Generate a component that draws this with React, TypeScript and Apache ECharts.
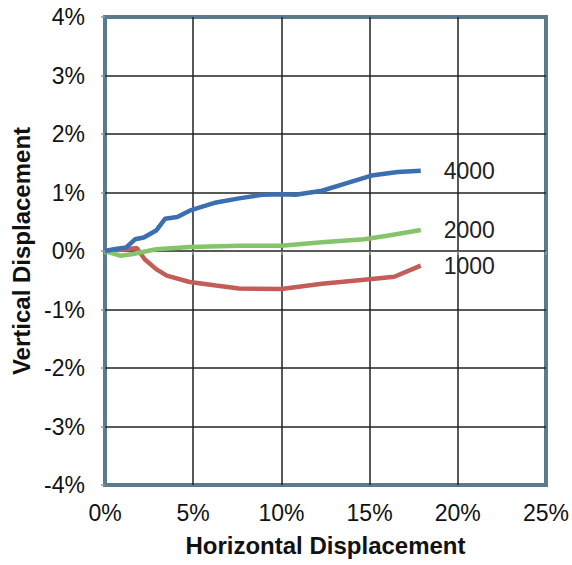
import React, { useEffect, useRef } from "react";
import * as echarts from "echarts";

const xTicks = [0, 5, 10, 15, 20, 25];
const yTicks = [-4, -3, -2, -1, 0, 1, 2, 3, 4];

const seriesNames = ["4000", "2000", "1000"];

const s4000X = [0, 0.5, 1.2, 1.7, 2.2, 2.9, 3.4, 4.1, 4.8, 5.2, 6.3, 7.6, 8.9, 10.0, 10.8, 12.3, 13.8, 15.1, 16.6, 17.9];
const s4000Y = [0, 0.03, 0.06, 0.2, 0.23, 0.35, 0.55, 0.58, 0.69, 0.73, 0.83, 0.9, 0.96, 0.97, 0.96, 1.03, 1.17, 1.29, 1.35, 1.37];

const s2000X = [0, 0.85, 1.6, 2.9, 4.8, 7.6, 10.0, 12.3, 14.7, 16.0, 17.9];
const s2000Y = [0, -0.08, -0.05, 0.03, 0.07, 0.09, 0.09, 0.15, 0.2, 0.26, 0.36];

const s1000X = [0, 1.2, 1.8, 2.25, 2.9, 3.5, 4.8, 6.3, 7.6, 10.0, 12.3, 14.7, 16.4, 17.9];
const s1000Y = [0, 0.03, 0.05, -0.14, -0.31, -0.42, -0.53, -0.59, -0.64, -0.65, -0.56, -0.49, -0.44, -0.25];

const colors = ["#3b6fb2", "#86c46c", "#c25d57"];

const FONT = "'Liberation Sans', Arial, sans-serif";

function zip(xs: number[], ys: number[]) {
  return xs.map((x, i) => [x, ys[i]]);
}

export default function App() {
  const ref = useRef<HTMLDivElement>(null);

  useEffect(() => {
    if (!ref.current) return;
    const chart = echarts.init(ref.current, undefined, { renderer: "svg" });
    const data = [zip(s4000X, s4000Y), zip(s2000X, s2000Y), zip(s1000X, s1000Y)];
    chart.setOption({
      animation: false,
      backgroundColor: "#ffffff",
      grid: {
        left: 105,
        right: 25,
        top: 17,
        bottom: 80,
        show: true,
        borderColor: "#5b7a8c",
        borderWidth: 4,
        backgroundColor: "transparent",
      },
      xAxis: {
        type: "value",
        min: xTicks[0],
        max: xTicks[xTicks.length - 1],
        interval: 5,
        name: "Horizontal Displacement",
        nameLocation: "middle",
        nameGap: 48,
        nameTextStyle: { fontFamily: FONT, fontWeight: "bold", fontSize: 24, color: "#111" },
        axisLine: { show: false },
        axisTick: { show: true, length: 4, lineStyle: { color: "#8a9aa4", width: 1.5 } },
        axisLabel: {
          fontFamily: FONT,
          fontSize: 23,
          color: "#111",
          margin: 16,
          formatter: (v: number) => `${v}%`,
        },
        splitLine: {
          show: true,
          showMinLine: false,
          showMaxLine: false,
          lineStyle: { color: "#222", width: 1.5 },
        },
      },
      yAxis: {
        type: "value",
        min: yTicks[0],
        max: yTicks[yTicks.length - 1],
        interval: 1,
        name: "Vertical Displacement",
        nameLocation: "middle",
        nameGap: 72,
        nameTextStyle: { fontFamily: FONT, fontWeight: "bold", fontSize: 24, color: "#111" },
        axisLine: { show: false },
        axisTick: { show: true, length: 4, lineStyle: { color: "#8a9aa4", width: 1.5 } },
        axisLabel: {
          fontFamily: FONT,
          fontSize: 23,
          color: "#111",
          margin: 20,
          formatter: (v: number) => `${v}%`,
        },
        splitLine: {
          show: true,
          showMinLine: false,
          showMaxLine: false,
          lineStyle: { color: "#222", width: 1.5 },
        },
      },
      series: seriesNames.map((name, i) => ({
        name,
        type: "line",
        data: data[i],
        showSymbol: false,
        symbol: "none",
        smooth: false,
        lineStyle: { color: colors[i], width: 4.5 },
        itemStyle: { color: colors[i] },
        z: 5 - i,
        endLabel: {
          show: true,
          formatter: name,
          distance: 23,
          fontFamily: FONT,
          fontSize: 23,
          color: "#222",
        },
      })),
    });
    return () => chart.dispose();
  }, []);

  return (
    <div
      ref={ref}
      style={{ position: "fixed", left: 0, top: 0, width: 572, height: 565, background: "#fff" }}
    />
  );
}
